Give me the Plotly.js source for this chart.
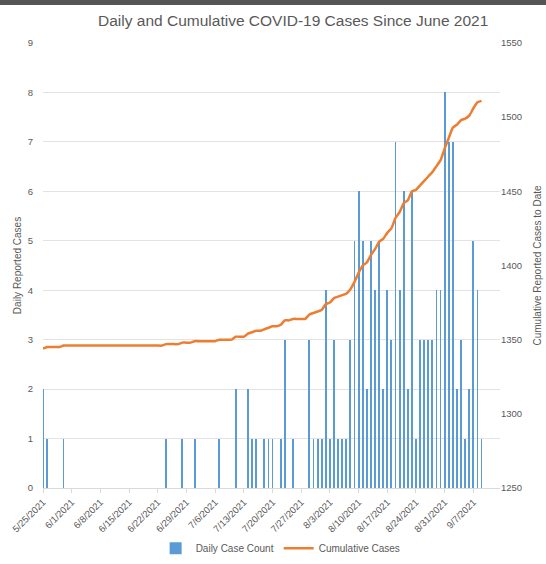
<!DOCTYPE html>
<html>
<head>
<meta charset="utf-8">
<script src="https://cdn.plot.ly/plotly-3.0.1.min.js"></script>
<style>
  html, body { margin: 0; padding: 0; background: #fff; }
  #topbar { position: absolute; left: 0; top: 0; width: 546px; height: 5px; background: #555555; z-index: 5; }
  #chart { width: 546px; height: 564px; }
</style>
</head>
<body>
<div id="topbar"></div>
<div id="chart"></div>
<script>
// Daily reported cases, one value per day starting 5/25/2021 (rows = weeks)
const startDate = '2021-05-25';
const dailyCases = [
  2,1,0,0,0,1,0,
  0,0,0,0,0,0,0,
  0,0,0,0,0,0,0,
  0,0,0,0,0,0,0,
  0,0,1,0,0,0,1,
  0,0,1,0,0,0,0,
  0,1,0,0,0,2,0,
  0,2,1,1,0,1,1,
  1,0,1,3,0,1,0,
  0,0,3,1,1,1,4,
  1,3,1,1,1,3,5,
  6,5,2,5,4,5,2,
  4,3,7,4,6,2,6,
  1,3,3,3,3,4,4,
  8,7,7,2,3,1,2,
  5,4,1
];
// Cumulative cases to date, same days
const cumulativeCases = [
  1344,1345,1345,1345,1345,1346,1346,
  1346,1346,1346,1346,1346,1346,1346,
  1346,1346,1346,1346,1346,1346,1346,
  1346,1346,1346,1346,1346,1346,1346,
  1346,1346,1347,1347,1347,1347,1348,
  1348,1348,1349,1349,1349,1349,1349,
  1349,1350,1350,1350,1350,1352,1352,
  1352,1354,1355,1356,1356,1357,1358,
  1359,1359,1360,1363,1363,1364,1364,
  1364,1364,1367,1368,1369,1370,1374,
  1375,1378,1379,1380,1381,1384,1389,
  1395,1400,1402,1407,1411,1416,1418,
  1422,1425,1432,1436,1442,1444,1450,
  1451,1454,1457,1460,1463,1467,1471,
  1479,1486,1493,1495,1498,1499,1501,
  1506,1510,1511
];
const leftTicks = [0,1,2,3,4,5,6,7,8,9];
const rightTicks = [1250,1300,1350,1400,1450,1500,1550];

function dayString(i) {
  const d = new Date(startDate + 'T00:00:00Z');
  d.setUTCDate(d.getUTCDate() + i);
  return d.toISOString().slice(0, 10);
}
const dates = dailyCases.map((_, i) => dayString(i));
const tickDates = [];
const tickLabels = [];
for (let i = 0; i < dates.length; i += 7) {
  tickDates.push(dates[i]);
  const p = dates[i].split('-');
  tickLabels.push(parseInt(p[1]) + '/' + parseInt(p[2]) + '/' + p[0]);
}

const textColor = '#595959';
const font = 'Liberation Sans, Arial, sans-serif';

const traces = [
  {
    type: 'bar', name: 'Daily Case Count', x: dates, y: dailyCases,
    marker: { color: '#5B9BD5', line: { width: 0 } },
    width: 0.45 * 86400000, yaxis: 'y', hoverinfo: 'x+y'
  },
  {
    type: 'scatter', mode: 'lines', name: 'Cumulative Cases', x: dates, y: cumulativeCases,
    line: { color: '#ED7D31', width: 2.5, shape: 'spline', smoothing: 0.4 }, yaxis: 'y2'
  }
];

const layout = {
  width: 546, height: 564,
  margin: { l: 43, r: 46, t: 43, b: 76, autoexpand: false },
  paper_bgcolor: '#ffffff', plot_bgcolor: '#ffffff',
  font: { family: font, color: textColor, size: 10 },
  title: {
    text: 'Daily and Cumulative COVID-19 Cases Since June 2021',
    font: { family: font, size: 15.5, color: textColor },
    x: 0.537, xanchor: 'center', y: 0.963, yanchor: 'middle'
  },
  bargap: 0,
  showlegend: true,
  legend: {
    orientation: 'h', x: 0.52, xanchor: 'center', y: -0.103, yanchor: 'top',
    font: { size: 10, color: textColor }, traceorder: 'normal'
  },
  xaxis: {
    type: 'date', automargin: false,
    range: ['2021-05-25', '2021-09-13 12:00'],
    tickmode: 'array', tickvals: tickDates, ticktext: tickLabels,
    tickangle: -45, tickfont: { size: 9.5, color: textColor },
    showgrid: false, showline: true, linecolor: '#d9d9d9', linewidth: 1,
    ticks: 'outside', ticklen: 4, tickcolor: '#d9d9d9',
    zeroline: false, fixedrange: true
  },
  yaxis: {
    automargin: false,
    range: [0, 9], tickvals: leftTicks, ticktext: leftTicks.map(String),
    ticklabelstandoff: 9,
    title: { text: 'Daily Reported Cases', font: { size: 10, color: textColor }, standoff: 4 },
    tickfont: { size: 9.5, color: textColor },
    showgrid: true, gridcolor: '#e3e3e3', gridwidth: 1,
    zeroline: false, showline: false, ticks: '', fixedrange: true
  },
  yaxis2: {
    automargin: false,
    overlaying: 'y', side: 'right', range: [1250, 1550],
    tickvals: rightTicks, ticktext: rightTicks.map(String),
    title: { text: 'Cumulative Reported Cases to Date', font: { size: 10, color: textColor }, standoff: 12 },
    tickfont: { size: 9.5, color: textColor },
    showgrid: false, zeroline: false, showline: false, ticks: '', fixedrange: true
  }
};

Plotly.newPlot('chart', traces, layout, { displayModeBar: false, staticPlot: true });
</script>
</body>
</html>
